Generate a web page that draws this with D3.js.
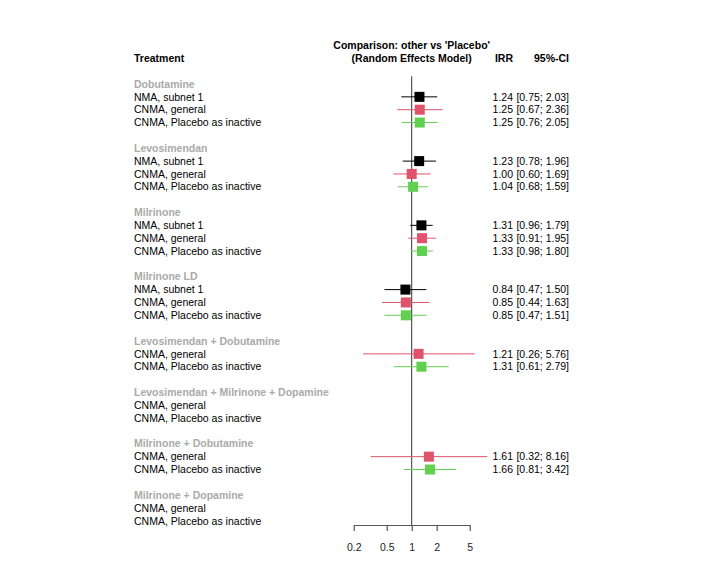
<!DOCTYPE html>
<html>
<head>
<meta charset="utf-8">
<script src="https://cdn.jsdelivr.net/npm/d3@7"></script>
<style>
  html, body { margin: 0; padding: 0; background: #fff; }
  svg { display: block; font-family: "Liberation Sans", Arial, sans-serif; }
</style>
</head>
<body>
<svg id="chart" width="704" height="576"></svg>
<script>
// ---- data ----
const treatments = ["Dobutamine", "Levosimendan", "Milrinone", "Milrinone LD",
  "Levosimendan + Dobutamine", "Levosimendan + Milrinone + Dopamine",
  "Milrinone + Dobutamine", "Milrinone + Dopamine"];
const methods = ["NMA, subnet 1", "CNMA, general", "CNMA, Placebo as inactive"];
// NMA, subnet 1 (null = comparison not in subnet)
const nmaIRR   = [1.24, 1.23, 1.31, 0.84, null, null, null, null];
const nmaLower = [0.75, 0.78, 0.96, 0.47, null, null, null, null];
const nmaUpper = [2.03, 1.96, 1.79, 1.50, null, null, null, null];
// CNMA, general
const genIRR   = [1.25, 1.00, 1.33, 0.85, 1.21, null, 1.61, null];
const genLower = [0.67, 0.60, 0.91, 0.44, 0.26, null, 0.32, null];
const genUpper = [2.36, 1.69, 1.95, 1.63, 5.76, null, 8.16, null];
// CNMA, Placebo as inactive
const plaIRR   = [1.25, 1.04, 1.33, 0.85, 1.31, null, 1.66, null];
const plaLower = [0.76, 0.68, 0.98, 0.47, 0.61, null, 0.81, null];
const plaUpper = [2.05, 1.59, 1.80, 1.51, 2.79, null, 3.42, null];
const tickValues = [0.2, 0.5, 1, 2, 5];
const headerLines = ["Comparison: other vs 'Placebo'", "(Random Effects Model)"];

// ---- build rows ----
const series = [
  {irr: nmaIRR, lo: nmaLower, hi: nmaUpper, color: "#000000", alwaysRow: false},
  {irr: genIRR, lo: genLower, hi: genUpper, color: "#DF536B", alwaysRow: true},
  {irr: plaIRR, lo: plaLower, hi: plaUpper, color: "#61D04F", alwaysRow: true}
];
const rows = [];
let r = 0;
treatments.forEach((t, gi) => {
  rows.push({type: "header", label: t, row: r++});
  series.forEach((s, si) => {
    if (s.alwaysRow || s.irr[gi] != null) {
      rows.push({type: "item", label: methods[si], row: r++, est: s.irr[gi], lo: s.lo[gi], hi: s.hi[gi], color: s.color});
    }
  });
  r++; // blank row
});

// ---- scales ----
const svg = d3.select("#chart");
const fs = 10.5;
const y = d3.scaleLinear().domain([0, 1]).range([84, 84 + 12.85]);
const x = d3.scaleLog().domain([0.2, 5]).range([353.7, 469.7]);
const xRef = x(1);
const leftX = 134, irrX = 513, ciX = 569;
const axisY = 525;
const sq = 10;

// column headers
svg.append("text").attr("x", leftX).attr("y", y(-2)).attr("dy", "0.35em")
  .attr("font-size", fs).attr("font-weight", "bold").attr("fill", "#000").text("Treatment");
headerLines.forEach((h, i) => {
  svg.append("text").attr("x", xRef).attr("y", y(-3 + i)).attr("dy", "0.35em")
    .attr("text-anchor", "middle").attr("font-size", fs).attr("font-weight", "bold").text(h);
});
svg.append("text").attr("x", irrX).attr("y", y(-2)).attr("dy", "0.35em")
  .attr("text-anchor", "end").attr("font-size", fs).attr("font-weight", "bold").text("IRR");
svg.append("text").attr("x", ciX).attr("y", y(-2)).attr("dy", "0.35em")
  .attr("text-anchor", "end").attr("font-size", fs).attr("font-weight", "bold").text("95%-CI");

// reference line
svg.append("line").attr("x1", xRef).attr("x2", xRef)
  .attr("y1", y(-0.6)).attr("y2", axisY)
  .attr("stroke", "#333").attr("stroke-width", 1);

// labels
svg.selectAll("text.lab").data(rows).join("text")
  .attr("class", "lab")
  .attr("x", leftX).attr("y", d => y(d.row)).attr("dy", "0.35em")
  .attr("font-size", fs)
  .attr("font-weight", d => d.type === "header" ? "bold" : "normal")
  .attr("fill", d => d.type === "header" ? "#aaaaaa" : "#000")
  .text(d => d.label);

const est = rows.filter(d => d.type === "item" && d.est != null);

// CI lines
svg.selectAll("line.ci").data(est).join("line")
  .attr("class", "ci")
  .attr("x1", d => x(d.lo)).attr("x2", d => x(d.hi))
  .attr("y1", d => y(d.row)).attr("y2", d => y(d.row))
  .attr("stroke", d => d.color).attr("stroke-width", 1);

// squares
svg.selectAll("rect.pt").data(est).join("rect")
  .attr("class", "pt")
  .attr("x", d => x(d.est) - sq / 2).attr("y", d => y(d.row) - sq / 2)
  .attr("width", sq).attr("height", sq)
  .attr("fill", d => d.color);

// numbers
svg.selectAll("text.irr").data(est).join("text")
  .attr("class", "irr")
  .attr("x", irrX).attr("y", d => y(d.row)).attr("dy", "0.35em")
  .attr("text-anchor", "end").attr("font-size", fs)
  .text(d => d.est.toFixed(2));
svg.selectAll("text.ci").data(est).join("text")
  .attr("class", "ci")
  .attr("x", ciX).attr("y", d => y(d.row)).attr("dy", "0.35em")
  .attr("text-anchor", "end").attr("font-size", fs)
  .text(d => "[" + d.lo.toFixed(2) + "; " + d.hi.toFixed(2) + "]");

// axis
const axis = d3.axisBottom(x).tickValues(tickValues).tickFormat(d => String(d))
  .tickSize(6).tickSizeOuter(0).tickPadding(13);
const g = svg.append("g").attr("transform", `translate(0,${axisY})`).call(axis);
g.select(".domain").attr("stroke", "#555").attr("stroke-width", 1.2);
g.selectAll(".tick line").attr("stroke", "#555").attr("stroke-width", 1.2);
g.selectAll(".tick text").attr("font-size", fs).attr("fill", "#222")
  .attr("font-family", "Liberation Sans, Arial, sans-serif");
</script>
</body>
</html>
